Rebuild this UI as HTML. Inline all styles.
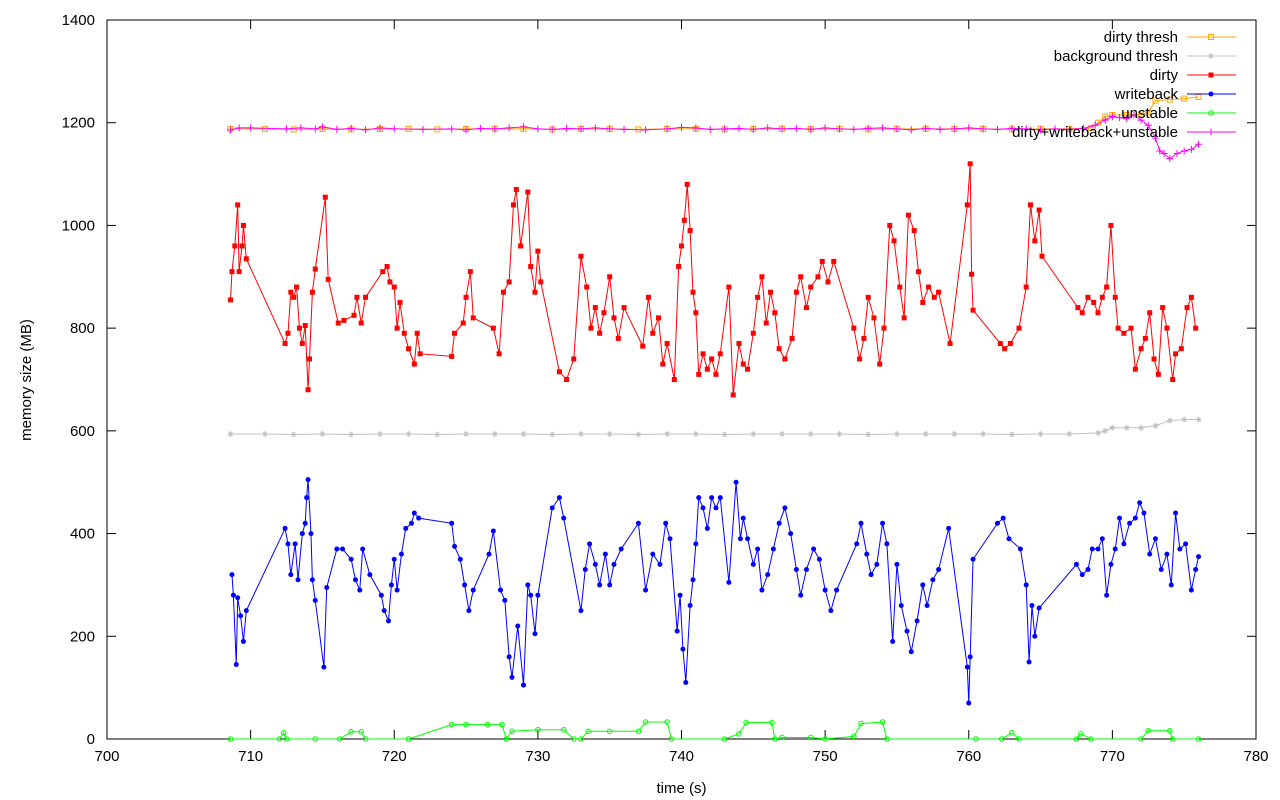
<!DOCTYPE html>
<html><head><meta charset="utf-8"><style>
body{margin:0;background:#fff}
svg{display:block;font-family:"Liberation Sans",sans-serif}
</style></head><body>
<svg id="chart" width="1280" height="800" xmlns="http://www.w3.org/2000/svg">
<g id="axes"></g>
<g id="series"></g>
<g id="legend"></g>
</svg>
<script>
const xTicks=[700,710,720,730,740,750,760,770,780];
const yTicks=[0,200,400,600,800,1000,1200,1400];
const dirtyThreshT=[708.6,711,713,715,717,719,721,723,725,727,729,731,733,735,737,739,741,743,745,747,749,751,753,755,757,759,761,763,765,767,768.5,769,769.5,770,771,772,772.5,773,774,775,776];
const dirtyThreshV=[1188,1188,1187,1188,1187,1188,1188,1187,1188,1188,1188,1187,1188,1188,1187,1188,1188,1187,1188,1188,1188,1188,1187,1188,1188,1188,1188,1187,1188,1188,1190,1200,1212,1215,1215,1216,1220,1243,1245,1247,1250];
const bgThreshT=[708.6,711,713,715,717,719,721,723,725,727,729,731,733,735,737,739,741,743,745,747,749,751,753,755,757,759,761,763,765,767,769,769.5,770,771,772,773,774,775,776];
const bgThreshV=[594,594,593,594,593,594,594,593,594,594,594,593,594,594,593,594,594,593,594,594,594,594,593,594,594,594,594,593,594,594,596,600,606,606,606,610,620,622,622];
const dirtyT=[708.6,708.7,708.9,709.1,709.2,709.4,709.5,709.7,712.4,712.6,712.8,713.0,713.2,713.4,713.6,713.8,714.0,714.1,714.3,714.5,715.2,715.4,716.1,716.5,717.2,717.4,717.7,718.0,719.2,719.5,719.7,720.0,720.2,720.4,720.7,721.0,721.4,721.6,721.8,724.0,724.2,724.8,725.0,725.3,725.5,726.9,727.3,727.6,728.0,728.3,728.5,728.8,729.3,729.5,729.8,730.0,730.2,731.5,732.0,732.5,733.0,733.4,733.7,734.0,734.3,734.6,735.0,735.3,735.6,736.0,737.3,737.7,738.0,738.4,738.7,739.0,739.5,739.8,740.0,740.2,740.4,740.6,740.8,741.0,741.2,741.5,741.8,742.1,742.4,742.7,743.3,743.6,744.0,744.3,744.6,745.0,745.3,745.6,745.9,746.2,746.5,746.8,747.2,747.7,748.0,748.3,748.7,749.0,749.5,749.8,750.2,750.6,752.0,752.4,752.7,753.0,753.4,753.8,754.1,754.5,754.8,755.2,755.5,755.8,756.2,756.5,756.8,757.2,757.6,757.9,758.7,759.9,760.1,760.2,760.3,762.2,762.5,762.9,763.5,764.0,764.3,764.6,764.9,765.1,767.6,767.9,768.3,768.7,769.0,769.3,769.6,769.9,770.2,770.4,770.8,771.3,771.6,772.0,772.3,772.6,772.9,773.2,773.5,773.8,774.2,774.4,774.8,775.2,775.5,775.8];
const dirtyV=[855,910,960,1040,910,960,1000,935,770,790,870,860,880,800,770,805,680,740,870,915,1055,895,810,815,825,860,810,860,910,920,890,880,800,850,790,760,730,790,750,745,790,810,860,910,820,800,750,870,890,1040,1070,960,1065,920,870,950,890,715,700,740,940,880,800,840,790,830,900,820,780,840,765,860,790,820,730,770,700,920,960,1010,1080,990,870,830,710,750,720,740,710,750,880,670,770,730,720,790,860,900,810,870,830,760,740,780,870,900,840,880,900,930,890,930,800,740,780,860,820,730,800,1000,970,880,820,1020,990,910,850,880,860,870,770,1040,1120,905,835,770,760,770,800,880,1040,970,1030,940,840,830,860,850,830,860,880,1000,860,800,790,800,720,760,780,830,740,710,840,800,700,750,760,840,860,800];
const wbT=[708.7,708.8,709.0,709.1,709.3,709.5,709.7,712.4,712.6,712.8,713.1,713.3,713.6,713.8,713.9,714.0,714.2,714.3,714.5,715.1,715.3,716.0,716.4,717.0,717.3,717.6,717.8,718.3,719.1,719.3,719.6,719.8,720.0,720.2,720.5,720.8,721.2,721.4,721.7,724.0,724.2,724.6,724.9,725.2,725.5,726.6,726.9,727.4,727.7,728.0,728.2,728.6,729.0,729.3,729.5,729.8,730.0,731.0,731.5,731.8,733.0,733.3,733.6,734.0,734.3,734.7,735.0,735.3,735.8,737.0,737.5,738.0,738.5,738.9,739.2,739.7,739.9,740.1,740.3,740.6,740.8,741.0,741.2,741.5,741.8,742.1,742.4,742.7,743.3,743.8,744.1,744.3,744.6,745.0,745.3,745.6,746.0,746.4,746.8,747.2,747.6,748.0,748.3,748.7,749.2,749.6,750.0,750.4,750.8,752.2,752.5,752.9,753.2,753.6,754.0,754.3,754.7,755.0,755.3,755.7,756.0,756.4,756.8,757.1,757.5,757.9,758.6,759.9,760.0,760.1,760.3,762.0,762.4,762.8,763.6,764.0,764.2,764.4,764.6,764.9,767.5,767.9,768.3,768.6,769.0,769.3,769.6,769.9,770.2,770.5,770.8,771.2,771.6,771.9,772.2,772.6,773.0,773.4,773.8,774.1,774.4,774.7,775.1,775.5,775.8,776.0];
const wbV=[320,280,145,275,240,190,250,410,380,320,380,310,400,420,470,505,400,310,270,140,295,370,370,350,310,290,370,320,280,250,230,300,350,290,360,410,420,440,430,420,375,350,300,250,290,360,405,290,270,160,120,220,105,300,280,205,280,450,470,430,250,330,380,340,300,360,300,340,370,420,290,360,340,420,390,210,280,175,110,260,310,380,470,450,410,470,450,470,305,500,390,430,390,340,370,290,320,370,420,450,400,330,280,330,370,350,290,250,290,380,420,360,320,340,420,380,190,340,260,210,170,230,300,260,310,330,410,140,70,160,350,420,430,390,370,300,150,260,200,255,340,320,330,370,370,390,280,340,370,430,380,420,430,460,440,360,390,330,360,300,440,370,380,290,330,355];
const unT=[708.6,712.0,712.3,712.5,714.5,716.2,717.0,717.7,718.0,721.0,724.0,725.0,726.5,727.5,727.8,728.2,730.0,731.8,732.5,733.0,733.5,735.0,737.0,737.5,739.0,739.3,743.0,744.0,744.5,746.3,746.5,747.0,749.0,750.0,752.0,752.5,754.0,754.3,760.5,762.3,763.0,763.5,767.5,767.8,768.5,772.0,772.5,774.0,774.2,776.0];
const unV=[0,0,12,0,0,0,14,14,0,0,28,28,28,28,0,15,18,18,0,0,15,15,15,33,33,0,0,10,32,32,0,3,3,0,5,30,33,0,0,0,12,0,0,10,0,0,16,16,0,0];
const sumT=[708.6,709.2,710,712.5,713.5,714.5,715,716,717,718,719,720,722,724,725,726,727,728,729,730,731,732,733,734,735,736,737.5,739,740,741,742,743,744,745,746,747,748,749,750,751,752,753,754,755,756,757,758,759,760,761,762,763,764,765,766,767,768,768.8,769.5,770,770.5,771,771.5,772,772.5,773,773.3,773.6,774,774.5,775,775.5,776];
const sumV=[1186,1190,1190,1188,1190,1188,1192,1187,1189,1186,1190,1188,1187,1188,1186,1189,1188,1190,1192,1188,1187,1189,1188,1190,1188,1187,1186,1188,1191,1190,1187,1188,1189,1187,1190,1188,1189,1187,1190,1188,1187,1189,1190,1188,1186,1189,1187,1188,1190,1188,1187,1189,1188,1186,1188,1187,1189,1195,1205,1212,1210,1208,1215,1205,1195,1170,1145,1140,1130,1140,1145,1148,1158];
const NS='http://www.w3.org/2000/svg';
const L=107,R=1256,T=20,B=739;
const xs=t=>L+(t-700)/80*(R-L);
const ys=v=>B-v/1400*(B-T);
function mk(tag,attrs,parent){const e=document.createElementNS(NS,tag);for(const k in attrs)e.setAttribute(k,attrs[k]);parent.appendChild(e);return e;}
const axes=document.getElementById('axes');
const fr=mk('rect',{x:L,y:T,width:R-L,height:B-T,fill:'none',stroke:'#000','stroke-width':1},axes);


xTicks.forEach(t=>{const x=xs(t);
const l1=mk('line',{x1:x,x2:x,y1:B,y2:B-9,stroke:'#000'},axes);
const l2=mk('line',{x1:x,x2:x,y1:T,y2:T+9,stroke:'#000'},axes);
const tx=mk('text',{x:x,y:B+22,'text-anchor':'middle','font-size':15,fill:'#000'},axes);tx.textContent=t;});
yTicks.forEach(v=>{const y=ys(v);
const l1=mk('line',{x1:L,x2:L+9,y1:y,y2:y,stroke:'#000'},axes);
const l2=mk('line',{x1:R,x2:R-9,y1:y,y2:y,stroke:'#000'},axes);
const tx=mk('text',{x:L-12,y:y+5,'text-anchor':'end','font-size':15,fill:'#000'},axes);tx.textContent=v;});
const xt=mk('text',{x:(L+R)/2,y:793,'text-anchor':'middle','font-size':15},axes);xt.textContent='time (s)';


const yt=mk('text',{x:31,y:380,'text-anchor':'middle','font-size':15,transform:'rotate(-90 31 380)'},axes);yt.textContent='memory size (MB)';


function marker(g,type,x,y,c){
 if(type==='osq')return mk('rect',{x:x-2.5,y:y-2.5,width:5,height:5,fill:'none',stroke:c},g);
 if(type==='sq')return mk('rect',{x:x-2.5,y:y-2.5,width:5,height:5,fill:c},g);
 if(type==='dot')return mk('circle',{cx:x,cy:y,r:2.5,fill:c},g);
 if(type==='ocirc')return mk('circle',{cx:x,cy:y,r:2.3,fill:'none',stroke:c},g);
 if(type==='star')return mk('path',{d:`M${x-3} ${y}H${x+3}M${x} ${y-3}V${y+3}M${x-2} ${y-2}L${x+2} ${y+2}M${x-2} ${y+2}L${x+2} ${y-2}`,stroke:c,fill:'none'},g);
 if(type==='plus')return mk('path',{d:`M${x-3.5} ${y}H${x+3.5}M${x} ${y-3.5}V${y+3.5}`,stroke:c,fill:'none'},g);
}
const sg=document.getElementById('series');
function series(name,T_,V,color,type){
 const g=mk('g',{},sg);
 const pl=mk('polyline',{points:T_.map((t,i)=>xs(t)+','+ys(V[i])).join(' '),fill:'none',stroke:color,'stroke-width':1},g);
 
 
 T_.forEach((t,i)=>{const m=marker(g,type,xs(t),ys(V[i]),color);
  
  });
}
series('background-thresh',bgThreshT,bgThreshV,'#c0c0c0','star');
series('unstable',unT,unV,'#00ff00','ocirc');
series('writeback',wbT,wbV,'#0000ff','dot');
series('dirty',dirtyT,dirtyV,'#ff0000','sq');
series('dirty-thresh',dirtyThreshT,dirtyThreshV,'#ffa500','osq');
series('dirty-writeback-unstable',sumT,sumV,'#ff00ff','plus');
const lg=document.getElementById('legend');
const items=[['dirty thresh','#ffa500','osq'],['background thresh','#c0c0c0','star'],['dirty','#ff0000','sq'],['writeback','#0000ff','dot'],['unstable','#00ff00','ocirc'],['dirty+writeback+unstable','#ff00ff','plus']];
items.forEach((it,i)=>{const y=37+i*19;
 const g=mk('g',{},lg);
 const tx=mk('text',{x:1178,y:y+5,'text-anchor':'end','font-size':15,fill:'#000'},g);tx.textContent=it[0];
 mk('line',{x1:1187,x2:1236,y1:y,y2:y,stroke:it[1]},g);
 marker(g,it[2],1211,y,it[1]);
});
</script>
</body></html>
